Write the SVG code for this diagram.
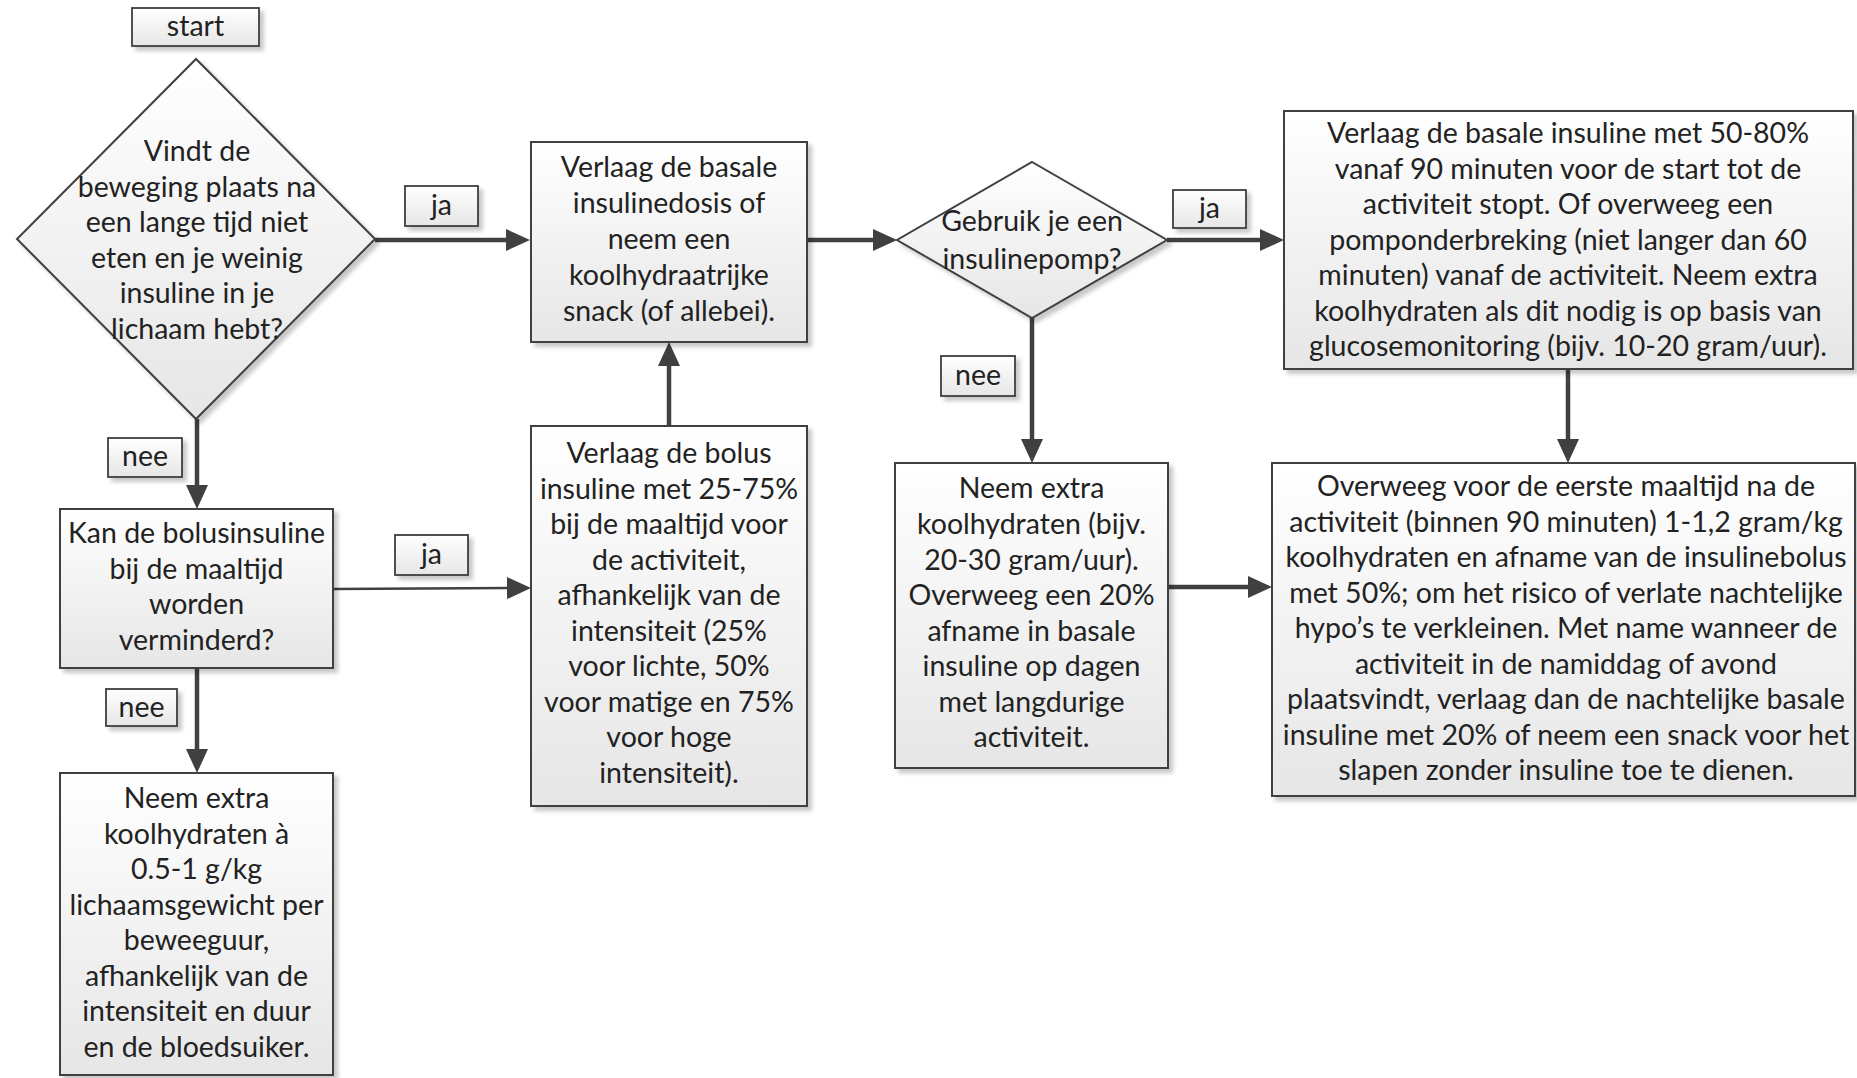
<svg xmlns="http://www.w3.org/2000/svg" width="1857" height="1078" viewBox="0 0 1857 1078">
<style>
  .node { fill: url(#fillGrad); stroke: #3f3f3f; stroke-width: 2; filter: url(#shadow); }
  .lbl { fill: url(#fillGrad); stroke: #3f3f3f; stroke-width: 1.8; filter: url(#shadow); }
  text { font-family: Lato, "Liberation Sans", sans-serif; font-size: 28.5px; fill: #222; text-anchor: middle; }
  .conn { stroke: #404040; stroke-width: 4.5; fill: none; marker-end: url(#arrow); }
  .thin { stroke-width: 2.5; }
</style>
<defs>
  <linearGradient id="fillGrad" x1="0" y1="0" x2="0" y2="1">
    <stop offset="0" stop-color="#ffffff"/>
    <stop offset="1" stop-color="#e6e6e6"/>
  </linearGradient>
  <filter id="shadow" x="-10%" y="-10%" width="130%" height="130%">
    <feDropShadow dx="4" dy="4" stdDeviation="2" flood-color="#000" flood-opacity="0.22"/>
  </filter>
  <marker id="arrow" markerUnits="userSpaceOnUse" markerWidth="26" markerHeight="24" refX="14" refY="11" orient="auto">
    <path d="M0,0 L24,11 L0,22 z" fill="#404040"/>
  </marker>
</defs>
<rect width="1857" height="1078" fill="#ffffff"/>

<g id="connectors">
  <line class="conn" x1="375" y1="240" x2="520" y2="240"/>
  <line class="conn" x1="807" y1="240" x2="887" y2="240"/>
  <line class="conn" x1="1167" y1="240" x2="1274" y2="240"/>
  <line class="conn" x1="1032" y1="318" x2="1032" y2="453"/>
  <line class="conn" x1="1568" y1="369" x2="1568" y2="453"/>
  <line class="conn" x1="1168" y1="587" x2="1262" y2="587"/>
  <line class="conn" x1="669" y1="426" x2="669" y2="352"/>
  <line class="conn" x1="197" y1="419" x2="197" y2="499"/>
  <line class="conn thin" x1="333" y1="589" x2="521" y2="588"/>
  <line class="conn" x1="197" y1="668" x2="197" y2="763"/>
</g>

<g id="start">
  <rect class="lbl" x="132" y="8" width="127" height="38"/>
  <text x="195.5" y="36">start</text>
</g>

<g id="q1">
  <polygon class="node" points="196,59 375,239 196,419 17,239"/>
  <text x="197" y="161">Vindt de</text>
  <text x="197" y="196.5">beweging plaats na</text>
  <text x="197" y="232">een lange tijd niet</text>
  <text x="197" y="267.5">eten en je weinig</text>
  <text x="197" y="303">insuline in je</text>
  <text x="197" y="338.5">lichaam hebt?</text>
</g>

<g id="lbl-ja1">
  <rect class="lbl" x="405" y="186" width="73" height="40"/>
  <text x="441.5" y="215">ja</text>
</g>

<g id="boxA">
  <rect class="node" x="531" y="142" width="276" height="200"/>
  <text x="669" y="177">Verlaag de basale</text>
  <text x="669" y="213">insulinedosis of</text>
  <text x="669" y="249">neem een</text>
  <text x="669" y="285">koolhydraatrijke</text>
  <text x="669" y="321">snack (of allebei).</text>
</g>

<g id="q2">
  <polygon class="node" points="1032,162 1167,240 1032,318 897,240"/>
  <text x="1032" y="231">Gebruik je een</text>
  <text x="1032" y="269">insulinepomp?</text>
</g>

<g id="lbl-ja2">
  <rect class="lbl" x="1173" y="190" width="73" height="38"/>
  <text x="1209.5" y="218">ja</text>
</g>

<g id="boxC">
  <rect class="node" x="1284" y="111" width="569" height="258"/>
  <text x="1568" y="143">Verlaag de basale insuline met 50-80%</text>
  <text x="1568" y="178.5">vanaf 90 minuten voor de start tot de</text>
  <text x="1568" y="214">activiteit stopt. Of overweeg een</text>
  <text x="1568" y="249.5">pomponderbreking (niet langer dan 60</text>
  <text x="1568" y="285">minuten) vanaf de activiteit. Neem extra</text>
  <text x="1568" y="320.5">koolhydraten als dit nodig is op basis van</text>
  <text x="1568" y="356">glucosemonitoring (bijv. 10-20 gram/uur).</text>
</g>

<g id="lbl-nee3">
  <rect class="lbl" x="941" y="356" width="74" height="40"/>
  <text x="978" y="385">nee</text>
</g>

<g id="boxD">
  <rect class="node" x="895" y="463" width="273" height="305"/>
  <text x="1031.5" y="498">Neem extra</text>
  <text x="1031.5" y="534">koolhydraten (bijv.</text>
  <text x="1031.5" y="569.5">20-30 gram/uur).</text>
  <text x="1031.5" y="605">Overweeg een 20%</text>
  <text x="1031.5" y="640.5">afname in basale</text>
  <text x="1031.5" y="676">insuline op dagen</text>
  <text x="1031.5" y="711.5">met langdurige</text>
  <text x="1031.5" y="747">activiteit.</text>
</g>

<g id="boxE">
  <rect class="node" x="1272" y="463" width="583" height="333"/>
  <text x="1566" y="496">Overweeg voor de eerste maaltijd na de</text>
  <text x="1566" y="531.5">activiteit (binnen 90 minuten) 1-1,2 gram/kg</text>
  <text x="1566" y="567">koolhydraten en afname van de insulinebolus</text>
  <text x="1566" y="602.5">met 50%; om het risico of verlate nachtelijke</text>
  <text x="1566" y="638">hypo’s te verkleinen. Met name wanneer de</text>
  <text x="1566" y="673.5">activiteit in de namiddag of avond</text>
  <text x="1566" y="709">plaatsvindt, verlaag dan de nachtelijke basale</text>
  <text x="1566" y="744.5">insuline met 20% of neem een snack voor het</text>
  <text x="1566" y="780">slapen zonder insuline toe te dienen.</text>
</g>

<g id="lbl-nee1">
  <rect class="lbl" x="108" y="438" width="74" height="39"/>
  <text x="145" y="466">nee</text>
</g>

<g id="boxF">
  <rect class="node" x="60" y="509" width="273" height="159"/>
  <text x="196.5" y="543">Kan de bolusinsuline</text>
  <text x="196.5" y="578.5">bij de maaltijd</text>
  <text x="196.5" y="614">worden</text>
  <text x="196.5" y="649.5">verminderd?</text>
</g>

<g id="lbl-ja3">
  <rect class="lbl" x="395" y="535" width="73" height="40"/>
  <text x="431.5" y="564">ja</text>
</g>

<g id="boxB">
  <rect class="node" x="531" y="426" width="276" height="380"/>
  <text x="669" y="463">Verlaag de bolus</text>
  <text x="669" y="498.5">insuline met 25-75%</text>
  <text x="669" y="534">bij de maaltijd voor</text>
  <text x="669" y="569.5">de activiteit,</text>
  <text x="669" y="605">afhankelijk van de</text>
  <text x="669" y="640.5">intensiteit (25%</text>
  <text x="669" y="676">voor lichte, 50%</text>
  <text x="669" y="711.5">voor matige en 75%</text>
  <text x="669" y="747">voor hoge</text>
  <text x="669" y="782.5">intensiteit).</text>
</g>

<g id="lbl-nee2">
  <rect class="lbl" x="106" y="689" width="71" height="37"/>
  <text x="141.5" y="716.5">nee</text>
</g>

<g id="boxG">
  <rect class="node" x="60" y="773" width="273" height="302"/>
  <text x="196.5" y="808">Neem extra</text>
  <text x="196.5" y="843.5">koolhydraten à</text>
  <text x="196.5" y="879">0.5-1 g/kg</text>
  <text x="196.5" y="914.5">lichaamsgewicht per</text>
  <text x="196.5" y="950">beweeguur,</text>
  <text x="196.5" y="985.5">afhankelijk van de</text>
  <text x="196.5" y="1021">intensiteit en duur</text>
  <text x="196.5" y="1056.5">en de bloedsuiker.</text>
</g>
</svg>
